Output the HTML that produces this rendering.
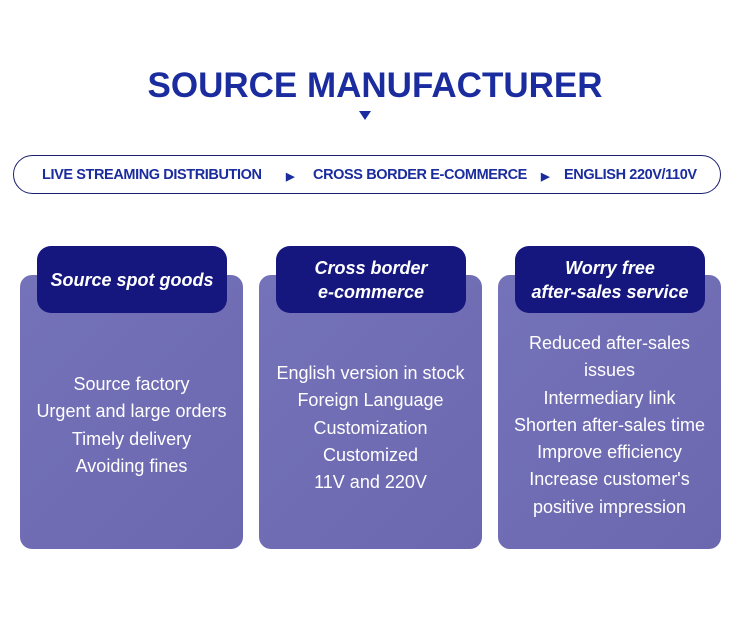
<!DOCTYPE html>
<html><head><style>
body{margin:0;width:750px;height:638px;background:#fff;font-family:"Liberation Sans",sans-serif;position:relative;overflow:hidden}
.t{position:absolute;left:0;width:750px;top:66px;text-align:center;font-size:35px;font-weight:bold;color:#1a2c9e;letter-spacing:0px}
.tri{position:absolute;left:359px;top:111px;width:0;height:0;border-left:6px solid transparent;border-right:6px solid transparent;border-top:9px solid #1a2c9e}
.pill{position:absolute;left:13px;top:155px;width:706px;height:37px;border:1.5px solid #1b1f6e;border-radius:20px;box-sizing:content-box}
.pt{position:absolute;top:167px;font-size:14.5px;font-weight:bold;color:#1a2c9e;letter-spacing:-0.4px;white-space:nowrap}
.card{position:absolute;top:275px;width:223px;height:274px;background:linear-gradient(135deg,#7472b8,#6c68b0);border-radius:12px}
.hd{position:absolute;top:246px;width:190px;height:67px;background:#15177f;border-radius:14px;color:#fff;font-style:italic;font-weight:bold;font-size:18px;display:flex;align-items:center;justify-content:center;text-align:center;line-height:24px}
.bd{position:absolute;width:223px;text-align:center;color:#fff;font-size:18px;line-height:27.3px}
</style></head><body>
<div class="t">SOURCE MANUFACTURER</div>
<div class="tri"></div>
<div class="pill"></div>
<div class="pt" style="left:42px">LIVE STREAMING DISTRIBUTION</div>
<div class="pt" style="left:286px;font-size:11px;top:170px">▶</div>
<div class="pt" style="left:313px">CROSS BORDER E-COMMERCE</div>
<div class="pt" style="left:541px;font-size:11px;top:170px">▶</div>
<div class="pt" style="left:564px">ENGLISH 220V/110V</div>

<div class="card" style="left:20px"></div>
<div class="card" style="left:259px"></div>
<div class="card" style="left:498px"></div>
<div class="hd" style="left:37px">Source spot goods</div>
<div class="hd" style="left:276px">Cross border<br>e-commerce</div>
<div class="hd" style="left:515px">Worry free<br>after-sales service</div>
<div class="bd" style="left:20px;top:371px">Source factory<br>Urgent and large orders<br>Timely delivery<br>Avoiding fines</div>
<div class="bd" style="left:259px;top:360px">English version in stock<br>Foreign Language<br>Customization<br>Customized<br>11V and 220V</div>
<div class="bd" style="left:498px;top:330px">Reduced after-sales<br>issues<br>Intermediary link<br>Shorten after-sales time<br>Improve efficiency<br>Increase customer's<br>positive impression</div>
</body></html>
